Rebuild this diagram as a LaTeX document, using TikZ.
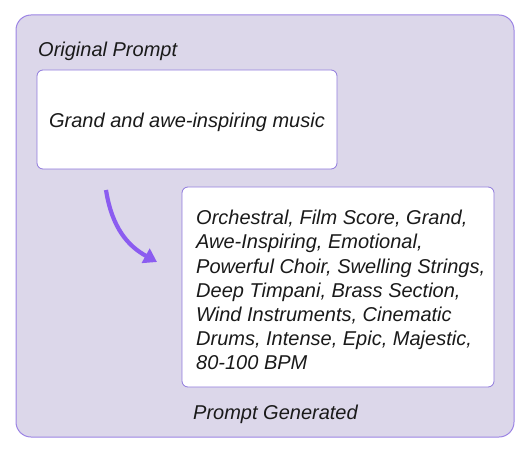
\documentclass[tikz,border=0pt]{standalone}
\usepackage{fontspec}
\setmainfont{Liberation Sans}
\usetikzlibrary{arrows.meta}
\definecolor{panelfill}{HTML}{DCD7EA}
\definecolor{panelline}{HTML}{9C84E4}
\definecolor{boxline}{HTML}{8F79DC}
\definecolor{arrowcol}{HTML}{8B5CF0}
\definecolor{txt}{HTML}{1A1A1A}
\tikzset{
  panel/.style={draw=panelline, fill=panelfill, line width=1pt, rounded corners=15pt},
  whitebox/.style={draw=boxline, fill=white, line width=0.8pt, rounded corners=6pt},
  label/.style={font=\fontsize{20}{24.2}\selectfont\itshape, text=txt, inner sep=0pt},
  flow/.style={draw=arrowcol, line width=4.2pt, -{Triangle[length=13pt,width=16pt]}}
}
\begin{document}
\begin{tikzpicture}[x=1pt,y=-1pt]
\useasboundingbox (0,0) rectangle (529,454);
\draw[panel] (16,15) rectangle (514,437);
\node[label, anchor=base west] (orig) at (38,57) {Original Prompt};
\draw[whitebox] (37,70) rectangle (337,169);
\node[label, anchor=base] (q) at (187,128) {Grand and awe-inspiring music};
\draw[whitebox] (182,187) rectangle (494,387);
\node[label, anchor=north west, align=left] (gen) at (196,210) {Orchestral, Film Score, Grand,\\Awe-Inspiring, Emotional,\\Powerful Choir, Swelling Strings,\\Deep Timpani, Brass Section,\\Wind Instruments, Cinematic\\Drums, Intense, Epic, Majestic,\\80-100 BPM};
\node[label, anchor=base west] (pg) at (193,419) {Prompt Generated};
\coordinate (s) at (106,190);
\coordinate (e) at (157,262);
\draw[flow] (s) .. controls (112,228) and (128,246) .. (e);
\end{tikzpicture}
\end{document}
